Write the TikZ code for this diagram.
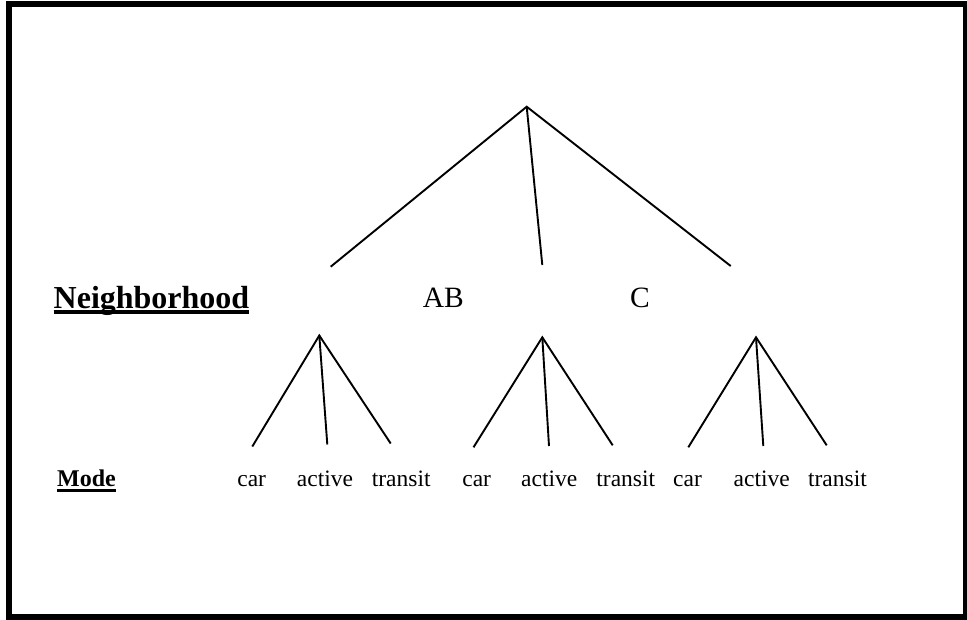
\documentclass[tikz,border=0pt]{standalone}
\usepackage{fontspec}
\setmainfont{Liberation Serif}
\begin{document}
\begin{tikzpicture}[x=1pt,y=-1pt,
  branch/.style={line width=1.9pt, line cap=butt},
  level/.style={font=\fontsize{29.5}{32}\selectfont, inner sep=0pt, anchor=base},
  heading/.style={font=\fontsize{32}{36}\selectfont\bfseries, inner sep=0pt, anchor=base},
  leaf/.style={font=\fontsize{23.5}{26}\selectfont, inner sep=0pt, anchor=base},
  modehead/.style={font=\fontsize{24}{26}\selectfont\bfseries, inner sep=0pt, anchor=base}]
\useasboundingbox (0,0) rectangle (967,619);
\begin{scope}
  \clip (0,0) rectangle (967,619);
  \draw[line width=6pt] (9,4) rectangle (966,616.5);
\end{scope}

% level labels
\node[heading] (nbhd) at (151.5,308) {Neighborhood};
\draw[line width=4pt] ([yshift=-4.3pt]nbhd.base west) -- ([yshift=-4.3pt]nbhd.base east);
\node[level] (ab) at (443.3,307.3) {AB};
\node[level] (c) at (640,307.3) {C};
\node[modehead] (mode) at (86.5,486.5) {Mode};
\draw[line width=2.7pt] ([yshift=-4.2pt]mode.base west) -- ([yshift=-4.2pt]mode.base east);

% upper split
\coordinate (root) at (526.7,106.7);
\coordinate (r1) at (330.7,266.7);
\coordinate (r2) at (542.3,265);
\coordinate (r3) at (730.7,266);
\draw[branch] (r1) -- (root) -- (r3);
\draw[branch] (root) -- (r2);

% lower splits
\coordinate (a1) at (319.3,335.5);
\coordinate (a1l) at (252.3,446.5);
\coordinate (a1m) at (327.3,444.5);
\coordinate (a1r) at (390.7,443.5);
\coordinate (a2) at (542.3,337.3);
\coordinate (a2l) at (473.5,447.3);
\coordinate (a2m) at (549,446);
\coordinate (a2r) at (612.7,445.3);
\coordinate (a3) at (756,337.3);
\coordinate (a3l) at (688.3,447.3);
\coordinate (a3m) at (763.3,446);
\coordinate (a3r) at (826.7,445.3);
\foreach \t in {a1,a2,a3}{
  \draw[branch] (\t l) -- (\t) -- (\t r);
  \draw[branch] (\t) -- (\t m);
}

% mode labels
\node[leaf] (car1) at (251.7,486.5) {car};
\node[leaf] (act1) at (325,486.5) {active};
\node[leaf] (tr1) at (401.2,486.5) {transit};
\node[leaf] (car2) at (476.7,486.5) {car};
\node[leaf] (act2) at (549.2,486.5) {active};
\node[leaf] (tr2) at (625.8,486.5) {transit};
\node[leaf] (car3) at (687.5,486.5) {car};
\node[leaf] (act3) at (761.7,486.5) {active};
\node[leaf] (tr3) at (837.5,486.5) {transit};
\end{tikzpicture}
\end{document}
